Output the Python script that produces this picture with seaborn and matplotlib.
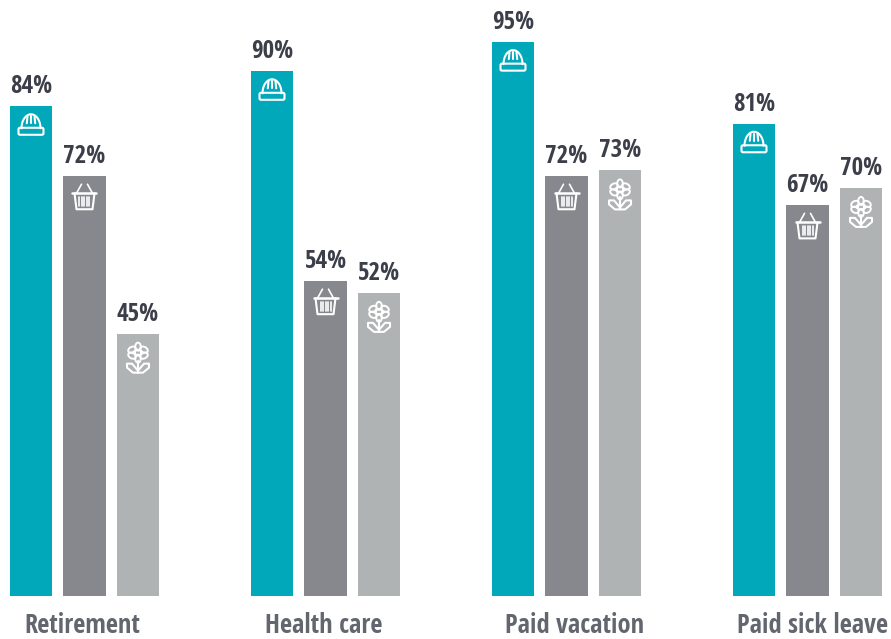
import numpy as np
import pandas as pd
import matplotlib
matplotlib.use("Agg")
import matplotlib.pyplot as plt
import seaborn as sns
from matplotlib.patches import Circle, Ellipse, FancyBboxPatch
from matplotlib.lines import Line2D
from matplotlib.transforms import Affine2D

categories = ["Retirement", "Health care", "Paid vacation", "Paid sick leave"]
groups = ["Hard hat", "Basket", "Flower"]
hard_hat = [84, 90, 95, 81]
basket = [72, 54, 72, 67]
flower = [45, 52, 73, 70]
palette = ["#00A8BA", "#86888D", "#AFB3B3"]


def stroke(ax, t, xs, ys, lw=1.5):
    ax.add_line(Line2D(xs, ys, color="white", lw=lw, transform=t, solid_capstyle="round"))


def draw_hat(ax, t):
    u = np.linspace(np.pi, 0, 30)
    stroke(ax, t, 9.5 * np.cos(u), 22 - 14 * np.sin(u))
    ax.add_patch(FancyBboxPatch((-11, 23), 22, 4, boxstyle="round,pad=1.5", fill=False, ec="white", lw=1.5, transform=t))
    for dx in (-3.5, 0, 3.5):
        stroke(ax, t, [dx, dx * 1.2], [10, 17])


def draw_basket(ax, t):
    stroke(ax, t, [-12, 12], [17, 17], lw=1.8)
    stroke(ax, t, [-10, -8, 8, 10], [17, 33, 33, 17])
    stroke(ax, t, [-8, -3], [17, 8], lw=1.2)
    stroke(ax, t, [8, 3], [17, 8], lw=1.2)
    for dx in (-5, -2.5, 0, 2.5, 5):
        stroke(ax, t, [dx, dx], [21, 30], lw=1.2)


def draw_flower(ax, t):
    ax.add_patch(Circle((0, 19), 3, fill=False, ec="white", lw=1.4, transform=t))
    for a in (30, 90, 150, 210, 270, 330):
        dx, dy = 7 * np.cos(np.radians(a)), 6 * np.sin(np.radians(a))
        ax.add_patch(Ellipse((dx, 19 + dy), 8, 5.5, angle=-a, fill=False, ec="white", lw=1.4, transform=t))
    stroke(ax, t, [0, 0], [27, 39])
    stroke(ax, t, [0, -5, -11, -11, -6, 0], [39, 39, 34, 30, 30, 37])
    stroke(ax, t, [0, 5, 11, 11, 6, 0], [39, 39, 34, 30, 30, 37])


icons = [draw_hat, draw_basket, draw_flower]


def main():
    df = pd.DataFrame({"category": categories, groups[0]: hard_hat, groups[1]: basket, groups[2]: flower})
    long_df = df.melt(id_vars="category", var_name="group", value_name="pct")

    sns.set_style("white")
    plt.rcParams["font.family"] = ["Open Sans Condensed", "Fira Sans Condensed", "Open Sans", "DejaVu Sans"]

    fig = plt.figure(figsize=(8.91, 6.39), dpi=100)
    ax = fig.add_axes([0, 43 / 639, 1, 596 / 639])
    sns.barplot(data=long_df, x="category", y="pct", hue="group", hue_order=groups, palette=palette,
                width=0.666, gap=0.2, saturation=1, legend=False, linewidth=0, ax=ax)

    ax.set_xlim(-84.5 / 241, (891 - 84.5) / 241)
    ax.set_ylim(0, 596 / 5.83)
    sns.despine(ax=ax, left=True, bottom=True)
    ax.set_xlabel("")
    ax.set_ylabel("")
    ax.set_yticks([])
    # category labels in the original are not quite centred under their bars
    ax.set_xticks([-0.01, 0.992, 2.035, 3.019], labels=categories)
    ax.tick_params(axis="x", length=0, pad=11.5, labelsize=19, labelcolor="#63666E")
    for lbl in ax.get_xticklabels():
        lbl.set_fontweight("bold")

    for i, cont in enumerate(ax.containers):
        ax.bar_label(cont, fmt="%d%%", padding=5, fontsize=18, fontweight="bold", color="#3C3F4A")
        for bar in cont:
            cx = bar.get_x() + bar.get_width() / 2
            px = ax.transData.transform((cx, bar.get_height()))
            t = Affine2D().scale(1, -1).translate(px[0], px[1])
            icons[i](ax, t)

    fig.savefig("out.png", dpi=100)


if __name__ == "__main__":
    main()
